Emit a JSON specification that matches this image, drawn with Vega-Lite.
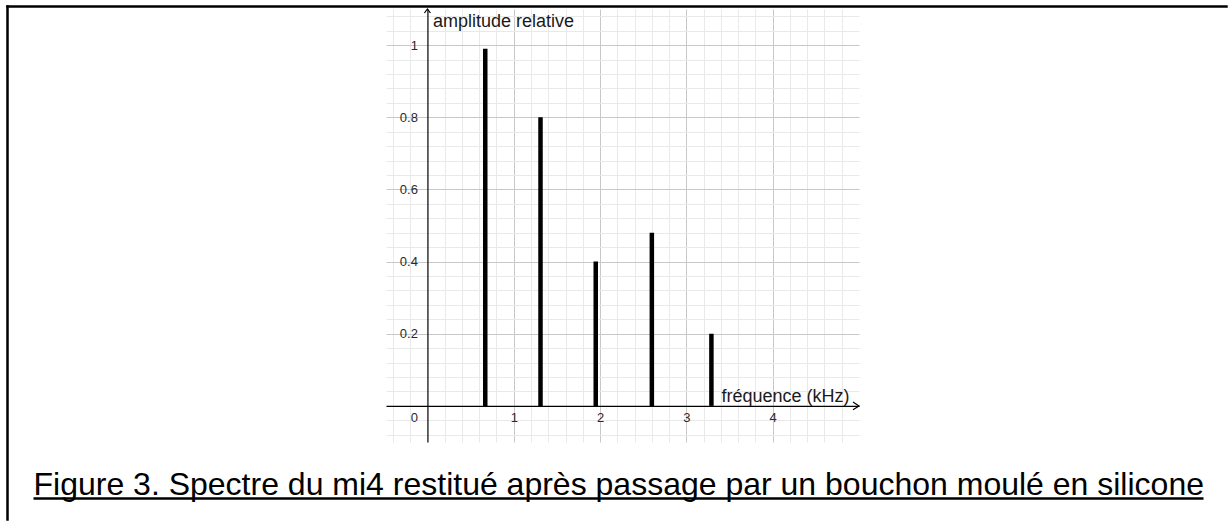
{
  "$schema": "https://vega.github.io/schema/vega-lite/v6.json",
  "width": 473,
  "height": 433,
  "autosize": {"type": "none"},
  "padding": {"left": 386, "top": 9, "right": 369, "bottom": 79},
  "background": "white",
  "config": {"view": {"stroke": null}, "font": "Liberation Sans"},
  "data": {
    "values": [
      {"freq": 0.67, "amp": 0.99},
      {"freq": 1.31, "amp": 0.8},
      {"freq": 1.95, "amp": 0.4},
      {"freq": 2.6, "amp": 0.48},
      {"freq": 3.29, "amp": 0.2}
    ]
  },
  "layer": [
    {
      "layer": [
        {
          "mark": {"type": "rule", "strokeWidth": 4.5, "color": "black", "strokeCap": "butt"},
          "encoding": {
            "x": {
              "field": "freq",
              "type": "quantitative",
              "scale": {"domain": [-0.48, 5], "nice": false, "zero": false},
              "axis": {
                "orient": "bottom",
                "offset": -36.08,
                "values": [-0.4, -0.2, 0.2, 0.4, 0.6, 0.8, 1, 1.2, 1.4, 1.6, 1.8, 2, 2.2, 2.4, 2.6, 2.8, 3, 3.2, 3.4, 3.6, 3.8, 4, 4.2, 4.4, 4.6, 4.8],
                "tickCount": 1000,
                "grid": true,
                "gridColor": {"condition": {"test": "abs(datum.value - round(datum.value)) < 0.001", "value": "#c8c8c8"}, "value": "#e9e9e9"},
                "gridWidth": 1,
                "domain": true,
                "domainColor": "black",
                "domainWidth": 1.2,
                "ticks": false,
                "tickSize": 0,
                "labelExpr": "datum.value > 0.5 && abs(datum.value - round(datum.value)) < 0.001 ? '' + datum.value : ''",
                "labelPadding": 12,
                "labelBaseline": "middle",
                "labelFontSize": 13,
                "labelColor": "#2a2a2a",
                "labelFont": "Liberation Sans",
                "labelOverlap": false,
                "labelFlush": false,
                "title": "fréquence (kHz)",
                "titleX": 463,
                "titleY": -4.5,
                "titleAlign": "right",
                "titleBaseline": "alphabetic",
                "titleFontSize": 18,
                "titleFontWeight": "normal",
                "titleColor": "#1a1a1a",
                "titleFont": "Liberation Sans"
              }
            },
            "y": {
              "field": "amp",
              "type": "quantitative",
              "scale": {"domain": [-0.1, 1.1], "nice": false, "zero": false},
              "axis": {
                "orient": "left",
                "offset": -41.43,
                "values": [-0.08, -0.04, 0.04, 0.08, 0.12, 0.16, 0.2, 0.24, 0.28, 0.32, 0.36, 0.4, 0.44, 0.48, 0.52, 0.56, 0.6, 0.64, 0.68, 0.72, 0.76, 0.8, 0.84, 0.88, 0.92, 0.96, 1, 1.04, 1.08],
                "tickCount": 1000,
                "grid": true,
                "gridColor": {"condition": {"test": "abs(datum.value * 5 - round(datum.value * 5)) < 0.001", "value": "#c8c8c8"}, "value": "#e9e9e9"},
                "gridWidth": 1,
                "domain": true,
                "domainColor": "black",
                "domainWidth": 1.2,
                "ticks": false,
                "tickSize": 0,
                "labelExpr": "datum.value > 0.1 && abs(datum.value * 5 - round(datum.value * 5)) < 0.001 ? '' + datum.value : ''",
                "labelPadding": 10,
                "labelFontSize": 13,
                "labelColor": "#2a2a2a",
                "labelFont": "Liberation Sans",
                "labelOverlap": false,
                "labelFlush": false,
                "title": "amplitude relative",
                "titleX": 5,
                "titleY": 17,
                "titleAngle": 0,
                "titleAlign": "left",
                "titleBaseline": "alphabetic",
                "titleFontSize": 18,
                "titleFontWeight": "normal",
                "titleColor": "#1a1a1a",
                "titleFont": "Liberation Sans"
              }
            },
            "y2": {"datum": 0}
          }
        },
        {
          "data": {"values": [{}]},
          "mark": {"type": "point", "shape": "M -1 -0.65 L 0 0 L -1 0.65", "size": 144, "filled": false, "color": "black", "strokeWidth": 1.2, "opacity": 1},
          "encoding": {
            "x": {"datum": 5, "type": "quantitative"},
            "y": {"datum": 0, "type": "quantitative"}
          }
        },
        {
          "data": {"values": [{}]},
          "mark": {"type": "point", "shape": "M -0.75 1 L 0 0 L 0.75 1", "size": 64, "filled": false, "color": "black", "strokeWidth": 1.2, "opacity": 1},
          "encoding": {
            "x": {"datum": 0, "type": "quantitative"},
            "y": {"datum": 1.1, "type": "quantitative"}
          }
        },
        {
          "data": {"values": [{}]},
          "mark": {"type": "text", "text": "0", "dx": -13, "dy": 12, "fontSize": 13, "color": "#2a2a2a", "baseline": "middle", "align": "center", "font": "Liberation Sans"},
          "encoding": {
            "x": {"datum": 0, "type": "quantitative"},
            "y": {"datum": 0, "type": "quantitative"}
          }
        }
      ]
    },
    {
      "data": {"values": [{}]},
      "mark": {"type": "point", "opacity": 0},
      "encoding": {
        "x": {
          "datum": 0,
          "type": "quantitative",
          "scale": {"domain": [0, 1], "range": [-379, 840], "nice": false, "zero": false},
          "axis": {"orient": "top", "offset": 3, "domain": true, "domainColor": "black", "domainWidth": 2.5, "domainCap": "square", "ticks": false, "labels": false, "grid": false, "title": null}
        },
        "y": {
          "datum": 0,
          "type": "quantitative",
          "scale": {"domain": [0, 1], "range": [510, -3], "nice": false, "zero": false},
          "axis": {"orient": "left", "offset": 379, "domain": true, "domainColor": "black", "domainWidth": 2.5, "domainCap": "square", "ticks": false, "labels": false, "grid": false, "title": null}
        }
      }
    },
    {
      "data": {"values": [{}]},
      "mark": {"type": "point", "opacity": 0},
      "encoding": {
        "x": {
          "datum": 0,
          "type": "quantitative",
          "scale": {"domain": [0, 1], "range": [-353, 817], "nice": false, "zero": false},
          "axis": {
            "orient": "bottom",
            "offset": 56,
            "domain": true,
            "domainColor": "black",
            "domainWidth": 2.5,
            "ticks": false,
            "labels": false,
            "grid": false,
            "title": "Figure 3. Spectre du mi4 restitué après passage par un bouchon moulé en silicone",
            "titleX": -353,
            "titleY": -4,
            "titleAlign": "left",
            "titleAngle": 0,
            "titleBaseline": "alphabetic",
            "titleFontSize": 32,
            "titleFont": "Liberation Sans",
            "titleFontWeight": "normal",
            "titleColor": "black"
          }
        }
      }
    }
  ],
  "resolve": {
    "scale": {"x": "independent", "y": "independent"},
    "axis": {"x": "independent", "y": "independent"}
  }
}
